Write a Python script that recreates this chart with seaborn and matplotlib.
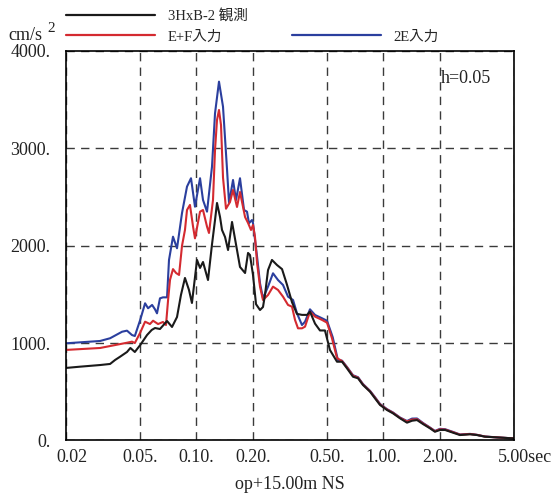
import numpy as np
import pandas as pd
import matplotlib
matplotlib.use('Agg')
import matplotlib.pyplot as plt
import matplotlib.transforms as mtransforms
from matplotlib.lines import Line2D
from matplotlib.ticker import NullLocator
import seaborn as sns

sns.set_style('white')
plt.rcParams['font.family'] = ['Liberation Serif', 'Noto Sans CJK JP']
plt.rcParams['font.size'] = 13

# Datos: periodo (s) y aceleracion (cm/s2)
obs_period = [0.020, 0.0238, 0.0305, 0.0345, 0.0367, 0.039, 0.0425, 0.0443, 0.0468, 0.050,
              0.0544, 0.0576, 0.060, 0.0638, 0.0696, 0.074, 0.0787, 0.0826, 0.0868, 0.0912,
              0.0946, 0.1007, 0.1045, 0.1084, 0.1153, 0.121, 0.1257, 0.1288, 0.1337, 0.137,
              0.1422, 0.1476, 0.155, 0.1648, 0.171, 0.182, 0.1888, 0.1934, 0.2007, 0.2083,
              0.2188, 0.227, 0.2328, 0.2415, 0.2535, 0.2697, 0.287, 0.305, 0.3245, 0.345,
              0.367, 0.391, 0.405, 0.431, 0.458, 0.487, 0.518, 0.565, 0.601, 0.639,
              0.688, 0.732, 0.778, 0.849, 0.902, 0.96, 1.046, 1.126, 1.228, 1.338,
              1.424, 1.514, 1.63, 1.777, 1.888, 2.01, 2.14, 2.36, 2.57, 2.91,
              3.17, 3.5, 4.21, 4.94]
obs_accel = [745, 758, 775, 786, 827, 860, 909, 950, 909, 980,
             1083, 1135, 1155, 1145, 1227, 1166, 1268, 1494, 1669, 1546,
             1412, 1854, 1772, 1833, 1648, 2008, 2264, 2439, 2295, 2162,
             2090, 1956, 2244, 1956, 1782, 1720, 1926, 1905, 1700, 1400,
             1340, 1371, 1500, 1750, 1854, 1802, 1760, 1600, 1420, 1300,
             1290, 1290, 1323, 1200, 1130, 1130, 929, 809, 809, 741,
             655, 639, 570, 501, 433, 365, 313, 279, 228, 183,
             203, 210, 169, 125, 90, 108, 108, 80, 56, 64,
             56, 39, 30, 22]

ef_period = [0.020, 0.0305, 0.0345, 0.0425, 0.0452, 0.0468, 0.050, 0.0531, 0.0564, 0.0586,
             0.0623, 0.0662, 0.0687, 0.0705, 0.0722, 0.0749, 0.0778, 0.0807, 0.0837, 0.0868,
             0.089, 0.0923, 0.0959, 0.0982, 0.1045, 0.1084, 0.1139, 0.1167, 0.1226, 0.1257,
             0.1288, 0.132, 0.1353, 0.1387, 0.1439, 0.1512, 0.1569, 0.1648, 0.171, 0.182,
             0.1888, 0.1958, 0.2007, 0.2057, 0.211, 0.2188, 0.227, 0.2415, 0.2568, 0.2731,
             0.2905, 0.309, 0.3245, 0.3368, 0.3494, 0.367, 0.381, 0.405, 0.431, 0.47,
             0.4995, 0.531, 0.565, 0.601, 0.639, 0.688, 0.732, 0.778, 0.849, 0.902,
             0.96, 1.046, 1.126, 1.228, 1.338, 1.424, 1.514, 1.63, 1.777, 1.888,
             2.01, 2.14, 2.36, 2.57, 2.91, 3.17, 3.5, 4.21, 4.94]
ef_accel = [930, 950, 970, 1004, 1015, 1001, 1107, 1220, 1196, 1230,
            1196, 1217, 1186, 1443, 1650, 1760, 1720, 1700, 2000, 2162,
            2367, 2419, 2196, 2076, 2350, 2367, 2196, 2131, 2470, 2983,
            3291, 3394, 3240, 2700, 2380, 2450, 2573, 2398, 2552, 2295,
            2234, 2162, 2213, 2090, 1823, 1580, 1443, 1494, 1580, 1546,
            1477, 1392, 1374, 1238, 1152, 1152, 1169, 1323, 1272, 1238,
            1210, 1050, 847, 815, 750, 665, 645, 575, 505, 440,
            370, 318, 284, 232, 195, 215, 218, 175, 130, 95,
            115, 112, 85, 60, 66, 58, 40, 30, 22]

e2_period = [0.020, 0.0305, 0.0345, 0.0400, 0.0425, 0.0452, 0.0468, 0.050, 0.0531, 0.0551,
             0.0579, 0.060, 0.0615, 0.0638, 0.0662, 0.0696, 0.0713, 0.0749, 0.0787, 0.0837,
             0.089, 0.0935, 0.0982, 0.1045, 0.1084, 0.1139, 0.1211, 0.1257, 0.132, 0.1387,
             0.1458, 0.1494, 0.1569, 0.1628, 0.171, 0.1797, 0.1864, 0.191, 0.1982, 0.2007,
             0.211, 0.2188, 0.227, 0.2415, 0.2568, 0.2731, 0.2905, 0.309, 0.3287, 0.345,
             0.367, 0.381, 0.405, 0.431, 0.47, 0.4995, 0.536, 0.571, 0.601, 0.639,
             0.688, 0.732, 0.778, 0.849, 0.902, 0.96, 1.046, 1.126, 1.228, 1.338,
             1.424, 1.514, 1.63, 1.777, 1.888, 2.01, 2.14, 2.36, 2.57, 2.91,
             3.17, 3.5, 4.21, 4.94]
e2_accel = [998, 1022, 1050, 1117, 1128, 1083, 1073, 1238, 1409, 1358,
            1392, 1347, 1306, 1460, 1470, 1470, 1854, 2093, 1974, 2336,
            2607, 2693, 2401, 2693, 2470, 2350, 2812, 3360, 3685, 3428,
            2778, 2436, 2675, 2470, 2693, 2367, 2350, 2231, 2264, 2234,
            1888, 1614, 1460, 1580, 1717, 1648, 1597, 1477, 1443, 1306,
            1186, 1220, 1347, 1289, 1255, 1230, 1060, 827, 820, 755,
            670, 650, 580, 510, 445, 375, 322, 288, 236, 200,
            225, 226, 180, 133, 98, 120, 116, 88, 62, 68,
            58, 41, 30, 22]

series_names = ['3HxB-2 観測', 'E+F入力', '2E入力']
series_colors = ['#1a1a1a', '#d42a30', '#2b3f9e']

x_ticks = [0.02, 0.05, 0.1, 0.2, 0.5, 1.0, 2.0, 5.0]
x_ticklabels = ['0.02', '0.05.', '0.10.', '0.20.', '0.50.', '1.00.', '2.00.', '5.00sec']
y_ticks = [0, 1000, 2000, 3000, 4000]
y_ticklabels = ['0.', '1000.', '2000.', '3000.', '4000.']

curves = pd.concat([
    pd.DataFrame({'period': obs_period, 'accel': obs_accel, 'series': series_names[0]}),
    pd.DataFrame({'period': ef_period, 'accel': ef_accel, 'series': series_names[1]}),
    pd.DataFrame({'period': e2_period, 'accel': e2_accel, 'series': series_names[2]}),
], ignore_index=True)

fig = plt.figure(figsize=(5.55, 4.94), dpi=100)
ax = fig.add_axes([0.1186, 0.1083, 0.8075, 0.7885])

# azul debajo, negro encima
sns.lineplot(data=curves, x='period', y='accel', hue='series',
             hue_order=series_names[::-1], palette=series_colors[::-1],
             estimator=None, sort=False, linewidth=1.5, legend=False, ax=ax)
for ln in ax.get_lines():
    ln.set_solid_joinstyle('round')

ax.set_xscale('log')
ax.set_xlim(0.02, 5.0)
ax.set_ylim(0, 4000)
ax.set_xticks(x_ticks)
ax.set_xticklabels(x_ticklabels)
ax.xaxis.set_minor_locator(NullLocator())
ax.set_yticks(y_ticks)
ax.set_yticklabels(y_ticklabels)
ax.tick_params(length=0, labelsize=13, colors='#222222')
ax.tick_params(axis='y', pad=11)
ax.tick_params(axis='x', pad=6)
ax.grid(True, linestyle=(0, (6, 4.5)), color='#3a3a3a', linewidth=1.0)
ax.set_axisbelow(True)
for s in ax.spines.values():
    s.set_color('black')
    s.set_linewidth(1.2)
ax.set_xlabel('op+15.00m NS', fontsize=13, labelpad=7, color='#222222')
ax.set_ylabel('')

# desplazar primera y ultima etiqueta
xl = ax.get_xticklabels()
xl[0].set_transform(xl[0].get_transform() + mtransforms.ScaledTranslation(0.06, 0, fig.dpi_scale_trans))
xl[-1].set_transform(xl[-1].get_transform() + mtransforms.ScaledTranslation(0.11, 0, fig.dpi_scale_trans))

fig.text(8 / 555, 1 - 36 / 494, 'cm/s', fontsize=13, va='center', color='#222222')
fig.text(47 / 555, 1 - 29 / 494, '2', fontsize=11, va='center', color='#222222')
fig.text(441 / 555, 1 - 78 / 494, 'h=0.05', fontsize=13, va='center', color='#222222')

handles = [Line2D([], [], color=series_colors[0], lw=1.6),
           Line2D([], [], color=series_colors[1], lw=1.6),
           Line2D([], [], color='none', lw=0),
           Line2D([], [], color=series_colors[2], lw=1.6)]
labels = [series_names[0], series_names[1], '', series_names[2]]
fig.legend(handles, labels, ncol=2, loc='upper left', bbox_to_anchor=(66 / 555, 1 - 9 / 494),
           frameon=False, borderpad=0, borderaxespad=0, handlelength=6.1, handletextpad=0.9,
           labelspacing=0.5, columnspacing=3.0,
           prop={'family': ['Liberation Serif', 'Noto Sans CJK JP'], 'size': 10.5})

fig.savefig('out.png', dpi=100)
